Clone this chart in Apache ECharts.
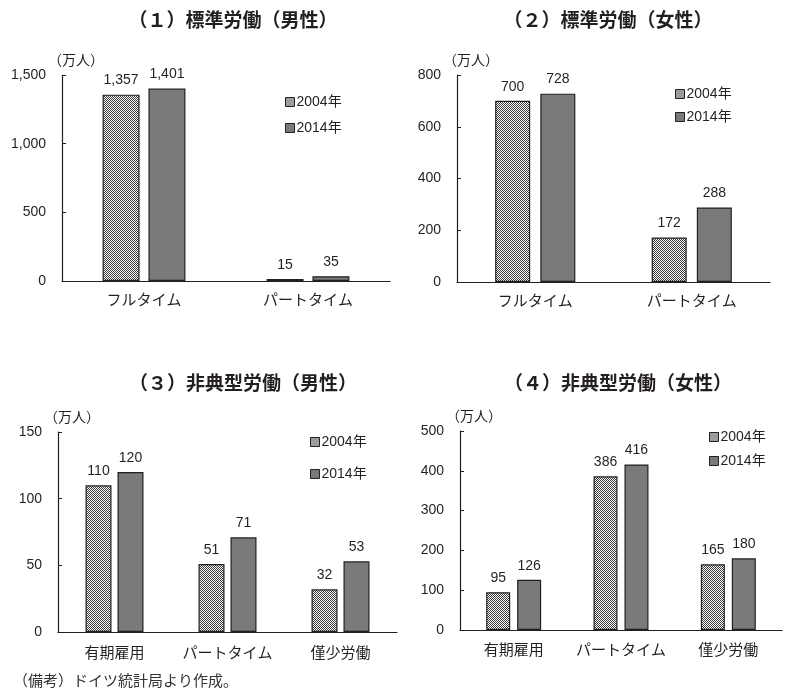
<!DOCTYPE html>
<html>
<head>
<meta charset="utf-8">
<script src="https://cdn.jsdelivr.net/npm/echarts@6/dist/echarts.min.js"></script>
<style>
  html, body { margin: 0; padding: 0; background: #fff; }
  #chart { width: 788px; height: 691px; }
</style>
</head>
<body>
<div id="chart"></div>
<script>
// データ
const years = ['2004年', '2014年']

const catStd = ['フルタイム', 'パートタイム']
const stdMale2004 = [1357, 15]
const stdMale2014 = [1401, 35]
const stdFemale2004 = [700, 172]
const stdFemale2014 = [728, 288]

const catAtyp = ['有期雇用', 'パートタイム', '僅少労働']
const atypMale2004 = [110, 51, 32]
const atypMale2014 = [120, 71, 53]
const atypFemale2004 = [95, 386, 165]
const atypFemale2014 = [126, 416, 180]

const panelTitles = [
  '（１）標準労働（男性）',
  '（２）標準労働（女性）',
  '（３）非典型労働（男性）',
  '（４）非典型労働（女性）'
]

const FONT = "'Liberation Sans', 'Noto Sans CJK JP', sans-serif"
const JP = "'Noto Sans CJK JP', sans-serif"
const INK = '#231f20'

// 2004年の網掛け
const tile = document.createElement('canvas')
tile.width = 2
tile.height = 2
const tctx = tile.getContext('2d')
tctx.fillStyle = '#ffffff'
tctx.fillRect(0, 0, 2, 2)
tctx.fillStyle = '#3a3a3a'
tctx.fillRect(0, 0, 1, 1)
tctx.fillRect(1, 1, 1, 1)
const hatch = { image: tile, repeat: 'repeat' }
const solid = '#7a7a7a'

const fmt = p => p.value.toLocaleString('en-US')

const panels = [
  { grid: { left: 62, top: 75, width: 328, height: 206 }, cats: catStd, max: 1500, step: 500,
    a: stdMale2004, b: stdMale2014, bw: 37, gap: '24%', lm: 11, legend: { left: 280, top: 90, itemGap: 12 } },
  { grid: { left: 457, top: 75, width: 313, height: 207 }, cats: catStd, max: 800, step: 200,
    a: stdFemale2004, b: stdFemale2014, bw: 35, gap: '29%', lm: 11, legend: { left: 670, top: 82, itemGap: 9 } },
  { grid: { left: 58, top: 432, width: 339, height: 200 }, cats: catAtyp, max: 150, step: 50,
    a: atypMale2004, b: atypMale2014, bw: 26, gap: '23%', lm: 13, legend: { left: 305, top: 430, itemGap: 18 } },
  { grid: { left: 460, top: 431, width: 322, height: 199 }, cats: catAtyp, max: 500, step: 100,
    a: atypFemale2004, b: atypFemale2014, bw: 24, gap: '29%', lm: 12, legend: { left: 704, top: 425, itemGap: 10 } }
]

const titleCenters = [[228, 5], [603, 5], [238, 368], [613, 368]]

const option = {
  backgroundColor: '#fff',
  animation: false,
  textStyle: { fontFamily: FONT, color: INK },
  title: panelTitles.map((t, i) => ({
    text: t,
    left: titleCenters[i][0],
    top: titleCenters[i][1],
    textAlign: 'center',
    textStyle: { fontFamily: JP, fontSize: 19, fontWeight: 'bold', color: INK }
  })).concat([{
    text: '（備考）ドイツ統計局より作成。',
    left: 8,
    top: 668,
    textStyle: { fontFamily: JP, fontSize: 15, fontWeight: 'normal', color: '#333' }
  }]),
  grid: panels.map(p => p.grid),
  legend: panels.map(p => ({
    data: years,
    orient: 'vertical',
    icon: 'rect',
    left: p.legend.left,
    top: p.legend.top,
    itemWidth: 9,
    itemHeight: 9,
    itemGap: p.legend.itemGap,
    textStyle: { fontFamily: FONT, fontSize: 14, color: INK, padding: [0, 0, 0, -3] },
    itemStyle: { borderColor: INK, borderWidth: 1 }
  })),
  xAxis: panels.map((p, i) => ({
    type: 'category',
    gridIndex: i,
    data: p.cats,
    axisLine: { lineStyle: { color: INK, width: 1.2 } },
    axisTick: { inside: true, length: 4, lineStyle: { color: INK } },
    axisLabel: { fontFamily: JP, fontSize: 15, color: INK, margin: p.lm, interval: 0 }
  })),
  yAxis: panels.map((p, i) => ({
    type: 'value',
    gridIndex: i,
    min: 0,
    max: p.max,
    interval: p.step,
    name: '（万人）',
    nameGap: 8,
    nameTextStyle: { fontFamily: JP, fontSize: 14, color: INK, align: 'left', padding: [0, 0, 0, -14] },
    splitLine: { show: false },
    axisLine: { show: true, lineStyle: { color: INK, width: 1.2 } },
    axisTick: { show: true, inside: true, length: 4, lineStyle: { color: INK } },
    axisLabel: {
      fontSize: 14, color: INK, margin: 16,
      formatter: v => v.toLocaleString('en-US')
    }
  })),
  series: panels.flatMap((p, i) => [
    {
      name: years[0], type: 'bar', xAxisIndex: i, yAxisIndex: i,
      data: p.a, barWidth: p.bw, barGap: p.gap,
      itemStyle: { color: hatch, borderColor: INK, borderWidth: 1.2 },
      label: { show: true, position: 'top', distance: 7, fontSize: 14, color: INK, formatter: fmt }
    },
    {
      name: years[1], type: 'bar', xAxisIndex: i, yAxisIndex: i,
      data: p.b, barWidth: p.bw, barGap: p.gap,
      itemStyle: { color: solid, borderColor: INK, borderWidth: 1.2 },
      label: { show: true, position: 'top', distance: 7, fontSize: 14, color: INK, formatter: fmt }
    }
  ])
}

const chart = echarts.init(document.getElementById('chart'))
chart.setOption(option)
</script>
</body>
</html>
